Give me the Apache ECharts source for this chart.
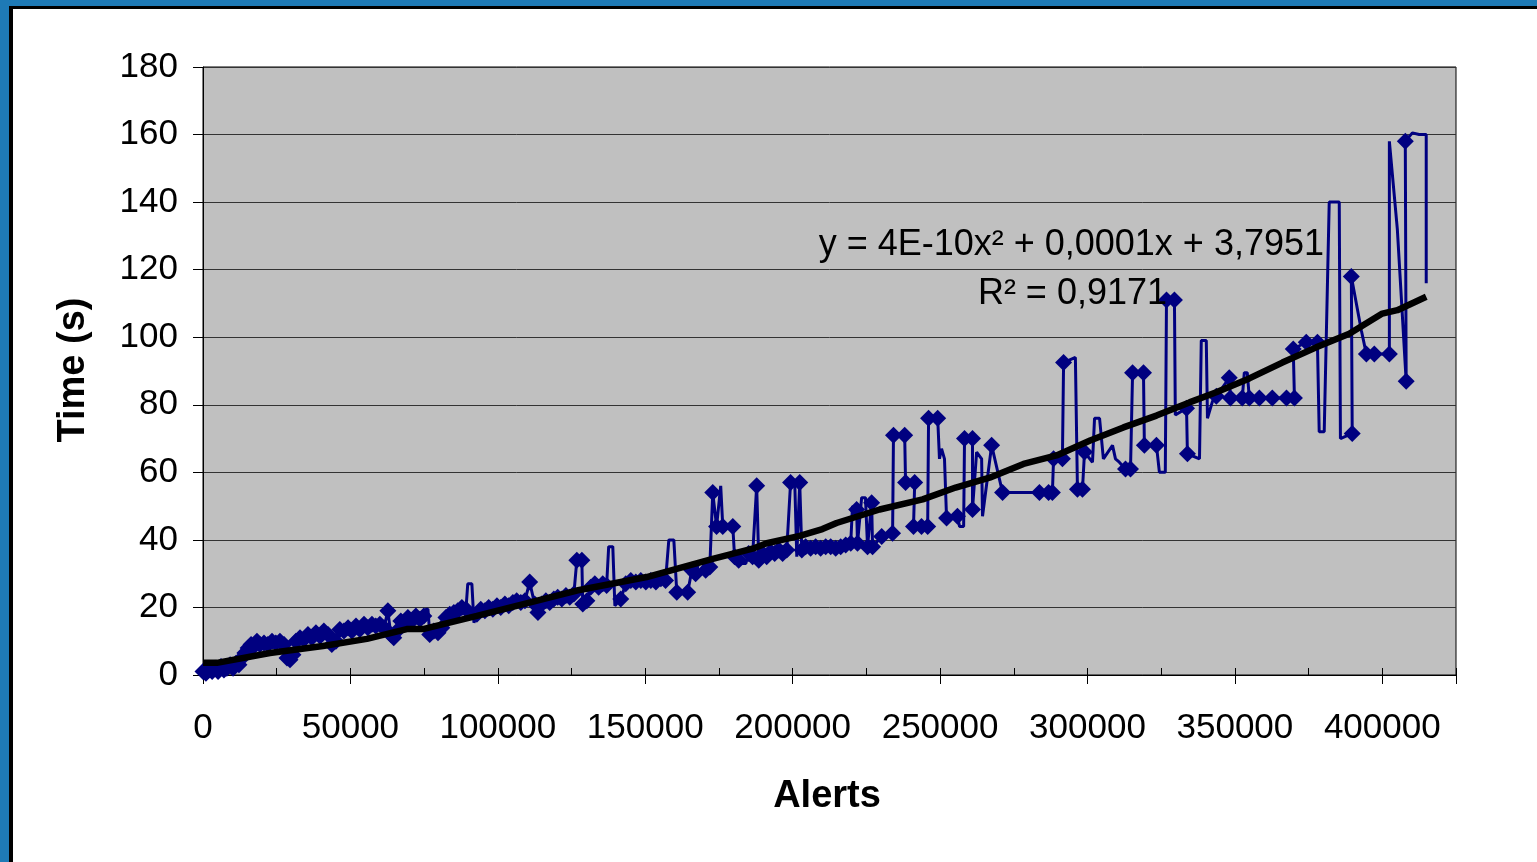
<!DOCTYPE html>
<html><head><meta charset="utf-8">
<script src="https://cdn.jsdelivr.net/npm/echarts@6/dist/echarts.min.js"></script>
<style>
html,body{margin:0;padding:0;width:1537px;height:862px;overflow:hidden;background:#1E7AB6;}
#frame{position:absolute;left:9px;top:6px;right:0;bottom:0;border-left:4px solid #000;border-top:3px solid #000;background:#fff;}
#chart{position:absolute;left:0;top:0;width:1537px;height:862px;}
</style></head><body><div id="frame"></div><div id="chart"></div>
<script>
// Measured series (in plotting order)
const alerts = [0,1000,2000,3100,4100,5100,6100,7100,8100,9200,10200,11200,12200,13200,14200,15300,16300,17300,18300,19300,
20700,22000,23400,24700,26100,27500,28500,29500,30500,31500,32900,34200,35600,36900,38300,39700,41000,42400,43700,45100,
46400,47800,49200,50500,51900,53200,54600,55900,57300,58600,60000,61400,62700,63700,64700,65800,67100,68100,69500,70800,
72200,73600,74900,75600,76300,76900,78300,79700,81000,82400,83700,85100,86400,87800,89200,89800,91200,91900,92900,94200,
95600,96900,98300,99700,101000,102400,103700,105100,106400,107800,109200,110800,112500,113600,114900,116300,117600,119000,120300,121700,
123100,124400,125800,126800,128500,128800,130200,131500,132900,134200,135600,136900,137600,139000,139700,141700,143400,145100,146800,148500,
150200,151900,153600,155300,156900,158000,159700,160700,164400,165800,167100,168100,169800,170500,171900,172900,174200,175600,176300,179700,
180300,181700,182700,184100,185100,186400,187800,188500,189800,191200,192500,193900,195300,196600,198000,199300,200700,201400,202400,203100,
204400,206100,207800,209500,211200,212900,214600,216300,218000,219700,220300,221700,222000,223400,224700,225400,226800,227100,230200,233900,
234200,238000,238300,241400,241000,243700,245800,246100,249200,249800,250500,251500,252200,255900,256600,258000,258300,261000,261000,262400,
264100,264400,267500,271200,275300,279300,283700,286800,288100,288500,291500,291900,295900,296600,298300,299000,301700,302400,304100,305400,
308500,309500,310800,312900,314600,315300,319000,319300,323400,324400,326400,326800,329500,329800,333600,333900,338000,338600,340300,340700,
342400,343700,348100,348500,352500,353200,354200,354900,358300,362700,367500,370200,369800,374200,378000,378600,380300,382000,385400,385800,
389800,389500,392900,394600,397300,402400,402400,405100,408100,407800,410200,412500,414900,414900];
const timeSec = [1,0.5,1.5,1,2,1,2.5,1.5,2,3,2,3.5,3,5,6.5,8,9,8.5,10,9,
9.5,9,10,9.5,10,9,5,4.5,6,10,11,10.5,12,11,12.5,11.5,13,12,9,10,
13.5,13,14,13,14.5,13.5,15,14,15,14.5,15,14,19,12,11,13,16,15.5,17,16,
17.5,16.5,17.5,19.5,19.5,12,13,12.5,14,17,18,18.5,19,20,19.5,27,27,15.5,18,19.5,
19,20,19.5,20.5,20,21,20.5,21.5,22,21.5,22,27.5,21,18.5,21,22,21.5,22.5,23,22.5,
23.5,23,24,34,34,21,22,26,27,26,27,26.5,38,38,20.5,22.5,27,28,27.5,28,
27.5,28,27.5,28.5,28,40,40,24.5,24.5,31,30,33,33,31,32,54,44,56,44,44,
35,34,33,33,36,35,56,34,36,35,36.5,36,37,36,37,57,57.5,35,57,37,
38,37.5,38,37.5,38,38,37.5,38,38.5,39,50,49,39,52.5,52.5,38,51,38,41,42,
71,71,57,57,44,44,44,76,76,64,67,64,46.5,47,44,44,70,70,49,66,
64,47,68,54,54,54,54,54,54,64,64,92.5,94,55,55,66,63,76,76,64,
68,64,63,61,61,89.5,89.5,68,68,60,60,111,111,77,79,65.5,64,99,99,76,
81,82.5,88,82,82,89.5,89.5,82,82,82,82,82,96.5,98.5,98.5,72,72,140,140,70,
71.5,118,102,95,95,95,158,132,87,158,160.5,160,160,116];
// 1 = point drawn with a diamond marker, 0 = line vertex only
const markerShown = [1,1,1,1,1,1,1,1,1,1,1,1,1,1,1,1,1,1,1,1,
1,1,1,1,1,1,1,1,1,1,1,1,1,1,1,1,1,1,1,1,
1,1,1,1,1,1,1,1,1,1,1,1,1,1,1,1,1,1,1,1,
1,1,1,0,0,1,1,1,1,1,1,1,1,1,1,0,0,0,1,1,
1,1,1,1,1,1,1,1,1,1,1,1,1,1,1,1,1,1,1,1,
1,1,1,1,1,1,1,1,1,1,1,1,0,0,0,1,1,1,1,1,
1,1,1,1,1,0,0,1,1,1,1,0,0,1,1,1,1,0,1,1,
1,1,0,0,1,1,1,1,1,1,1,1,1,1,1,1,0,0,1,1,
1,1,1,1,1,1,1,1,1,1,0,1,1,0,0,1,1,1,1,1,
1,1,1,1,1,1,1,1,1,0,0,0,1,1,0,0,1,1,1,0,
0,0,1,1,0,0,1,1,1,1,1,1,0,1,1,1,0,0,0,0,
0,0,0,1,1,1,1,1,1,0,0,1,1,0,1,1,0,0,0,0,
0,1,1,1,1,0,0,1,1,1,1,1,1,1,1,0,0,0,0,0,
1,1,0,1,1,1,0,0,1,1,0,0,0,0];
// Trendline as drawn (polynomial, order 2)
const trendX = [0,4700,22700,40700,55600,69100,74600,92900,126800,150500,172900,186400,191200,202400,210100,214900,229500,244100,255300,266800,278300,289500,300900,312200,323400,334600,343700,354900,366100,377600,388800,400000,405100,414900];
const trendY = [3.6,3.6,6.5,8.6,10.7,13.6,13.6,17.5,25,29,34.4,37.4,39,41.2,43.2,45,49,52,55.5,58.4,62.5,65,69.4,73.3,76.8,80.7,83.7,87.8,92.5,97,101,107,108,112];
const xTicks = {min:0, max:425000, major:50000, minor:25000};
const yTicks = {min:0, max:180, step:20};
const equationText = 'y = 4E-10x² + 0,0001x + 3,7951';
const r2Text = 'R² = 0,9171';
const xName = 'Alerts';
const yName = 'Time (s)';

const FONT = 'Liberation Sans, Arial, sans-serif';
const linePts = alerts.map((x, i) => [x, timeSec[i]]);
const markPts = linePts.filter((p, i) => markerShown[i] === 1);
const trendPts = trendX.map((x, i) => [x, trendY[i]]);

const chart = echarts.init(document.getElementById('chart'), null, {renderer: 'canvas'});
chart.setOption({
  animation: false,
  backgroundColor: 'transparent',
  grid: {left: 203, top: 67, width: 1253, height: 608, show: true, backgroundColor: '#C0C0C0', borderColor: '#000', borderWidth: 1},
  xAxis: [{
    type: 'value', min: xTicks.min, max: xTicks.max, interval: xTicks.major,
    axisLine: {show: true, lineStyle: {color: '#000', width: 1}},
    axisTick: {show: true, length: 9, lineStyle: {color: '#000'}},
    splitLine: {show: false},
    axisLabel: {fontSize: 35, color: '#000', fontFamily: FONT, margin: 36,
      formatter: v => (v === xTicks.max ? '' : String(v))}
  }, {
    type: 'value', min: xTicks.min, max: xTicks.max, interval: xTicks.minor, position: 'bottom',
    axisLine: {show: false},
    axisTick: {show: true, inside: true, length: 7, lineStyle: {color: '#000'}},
    axisLabel: {show: false}, splitLine: {show: false}
  }],
  yAxis: {
    type: 'value', min: yTicks.min, max: yTicks.max, interval: yTicks.step,
    axisLine: {show: true, lineStyle: {color: '#000'}},
    axisTick: {show: true, length: 10, lineStyle: {color: '#000'}},
    splitLine: {show: true, lineStyle: {color: '#333', width: 1}},
    axisLabel: {fontSize: 35, color: '#000', fontFamily: FONT, margin: 25}
  },
  series: [{
    type: 'line', xAxisIndex: 0, data: linePts, symbol: 'none', showSymbol: false,
    lineStyle: {color: '#000080', width: 3}, z: 2
  }, {
    type: 'scatter', xAxisIndex: 0, data: markPts, symbol: 'diamond', symbolSize: 17,
    itemStyle: {color: '#000080', opacity: 1}, z: 3
  }, {
    type: 'line', xAxisIndex: 0, data: trendPts, symbol: 'none', showSymbol: false,
    lineStyle: {color: '#000', width: 6.5}, z: 4
  }],
  graphic: [
    {type: 'text', x: 1324, y: 245, z: 10, style: {text: equationText, fill: '#000', fontSize: 36, fontFamily: FONT, align: 'right', verticalAlign: 'middle'}},
    {type: 'text', x: 1167, y: 294, z: 10, style: {text: r2Text, fill: '#000', fontSize: 36, fontFamily: FONT, align: 'right', verticalAlign: 'middle'}},
    {type: 'text', x: 827, y: 797, style: {text: xName, fill: '#000', fontSize: 38, fontWeight: 'bold', fontFamily: FONT, align: 'center', verticalAlign: 'middle'}},
    {type: 'text', x: 74, y: 370, rotation: Math.PI / 2, style: {text: yName, fill: '#000', fontSize: 38, fontWeight: 'bold', fontFamily: FONT, align: 'center', verticalAlign: 'middle'}}
  ]
});
</script></body></html>
